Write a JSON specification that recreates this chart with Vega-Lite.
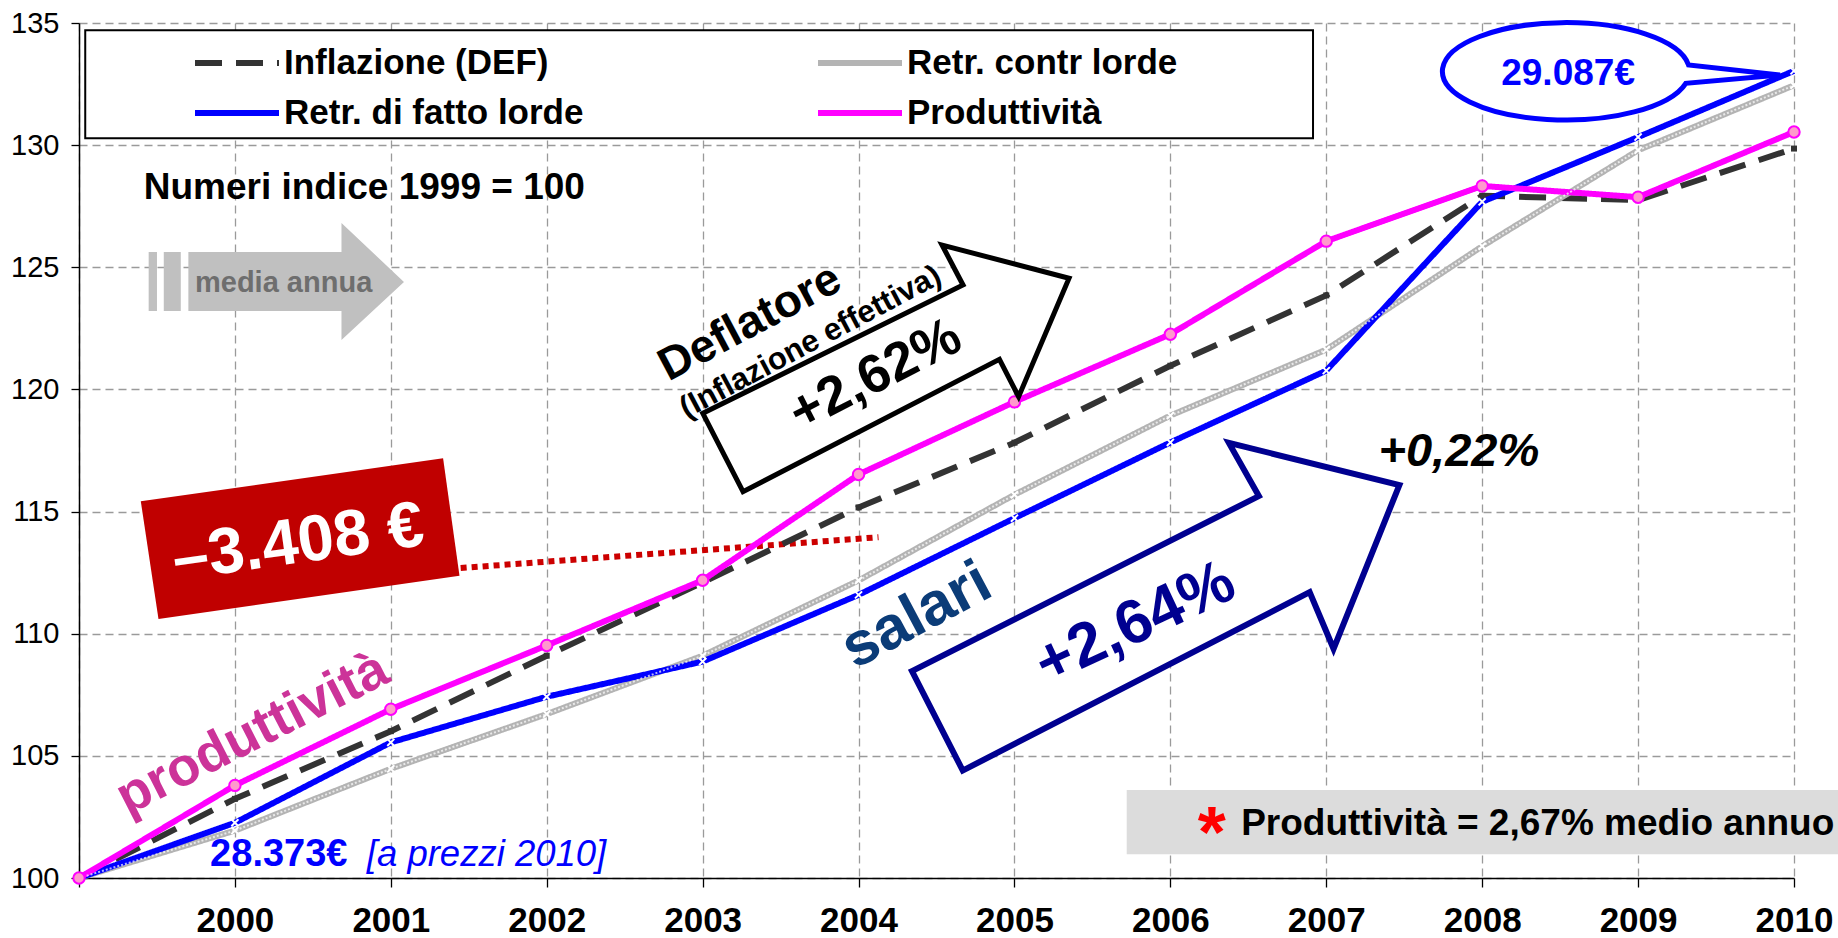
{
  "$schema": "https://vega.github.io/schema/vega-lite/v6.json",
  "width": 1715,
  "height": 855,
  "autosize": {"type": "none"},
  "padding": {"left": 79, "top": 23, "right": 44, "bottom": 60},
  "background": "white",
  "config": {"view": {"stroke": null}, "font": "Liberation Sans"},
  "data": {"values": [
    {"anno": 1999, "serie": "Inflazione (DEF)", "valore": 100},
    {"anno": 2000, "serie": "Inflazione (DEF)", "valore": 103.24},
    {"anno": 2001, "serie": "Inflazione (DEF)", "valore": 106.01},
    {"anno": 2002, "serie": "Inflazione (DEF)", "valore": 109.1},
    {"anno": 2003, "serie": "Inflazione (DEF)", "valore": 112.1},
    {"anno": 2004, "serie": "Inflazione (DEF)", "valore": 115.17},
    {"anno": 2005, "serie": "Inflazione (DEF)", "valore": 117.82},
    {"anno": 2006, "serie": "Inflazione (DEF)", "valore": 120.97},
    {"anno": 2007, "serie": "Inflazione (DEF)", "valore": 123.85},
    {"anno": 2008, "serie": "Inflazione (DEF)", "valore": 127.93},
    {"anno": 2009, "serie": "Inflazione (DEF)", "valore": 127.75},
    {"anno": 2010, "serie": "Inflazione (DEF)", "valore": 129.86},
    {"anno": 1999, "serie": "Retr. contr lorde", "valore": 100},
    {"anno": 2000, "serie": "Retr. contr lorde", "valore": 101.94},
    {"anno": 2001, "serie": "Retr. contr lorde", "valore": 104.47},
    {"anno": 2002, "serie": "Retr. contr lorde", "valore": 106.71},
    {"anno": 2003, "serie": "Retr. contr lorde", "valore": 109.1},
    {"anno": 2004, "serie": "Retr. contr lorde", "valore": 112.18},
    {"anno": 2005, "serie": "Retr. contr lorde", "valore": 115.69},
    {"anno": 2006, "serie": "Retr. contr lorde", "valore": 118.93},
    {"anno": 2007, "serie": "Retr. contr lorde", "valore": 121.63},
    {"anno": 2008, "serie": "Retr. contr lorde", "valore": 125.86},
    {"anno": 2009, "serie": "Retr. contr lorde", "valore": 129.79},
    {"anno": 2010, "serie": "Retr. contr lorde", "valore": 132.45},
    {"anno": 1999, "serie": "Retr. di fatto lorde", "valore": 100},
    {"anno": 2000, "serie": "Retr. di fatto lorde", "valore": 102.26},
    {"anno": 2001, "serie": "Retr. di fatto lorde", "valore": 105.55},
    {"anno": 2002, "serie": "Retr. di fatto lorde", "valore": 107.42},
    {"anno": 2003, "serie": "Retr. di fatto lorde", "valore": 108.86},
    {"anno": 2004, "serie": "Retr. di fatto lorde", "valore": 111.59},
    {"anno": 2005, "serie": "Retr. di fatto lorde", "valore": 114.73},
    {"anno": 2006, "serie": "Retr. di fatto lorde", "valore": 117.83},
    {"anno": 2007, "serie": "Retr. di fatto lorde", "valore": 120.77},
    {"anno": 2008, "serie": "Retr. di fatto lorde", "valore": 127.68},
    {"anno": 2009, "serie": "Retr. di fatto lorde", "valore": 130.33},
    {"anno": 2010, "serie": "Retr. di fatto lorde", "valore": 133.04},
    {"anno": 1999, "serie": "Produttività", "valore": 100},
    {"anno": 2000, "serie": "Produttività", "valore": 103.79},
    {"anno": 2001, "serie": "Produttività", "valore": 106.91},
    {"anno": 2002, "serie": "Produttività", "valore": 109.52},
    {"anno": 2003, "serie": "Produttività", "valore": 112.19},
    {"anno": 2004, "serie": "Produttività", "valore": 116.52},
    {"anno": 2005, "serie": "Produttività", "valore": 119.49},
    {"anno": 2006, "serie": "Produttività", "valore": 122.26},
    {"anno": 2007, "serie": "Produttività", "valore": 126.07},
    {"anno": 2008, "serie": "Produttività", "valore": 128.33},
    {"anno": 2009, "serie": "Produttività", "valore": 127.87},
    {"anno": 2010, "serie": "Produttività", "valore": 130.54}
  ]},
  "encoding": {
    "x": {
      "field": "anno", "type": "quantitative", "title": null,
      "scale": {"domain": [1999, 2010], "nice": false, "zero": false},
      "axis": {
        "values": [1999, 2000, 2001, 2002, 2003, 2004, 2005, 2006, 2007, 2008, 2009, 2010],
        "format": "d",
        "labelExpr": "datum.value == 1999 ? '' : datum.label",
        "labelFont": "Liberation Sans", "labelFontSize": 35, "labelFontWeight": "bold", "labelColor": "black",
        "labelPadding": 16, "labelFlush": false, "labelOverlap": false,
        "tickSize": 9, "tickColor": "black", "tickWidth": 1.3,
        "domainColor": "black", "domainWidth": 1.5,
        "grid": true, "gridColor": "#9a9a9a", "gridDash": [8, 5], "gridWidth": 1.3
      }
    },
    "y": {
      "field": "valore", "type": "quantitative", "title": null,
      "scale": {"domain": [100, 135], "nice": false, "zero": false},
      "axis": {
        "values": [100, 105, 110, 115, 120, 125, 130, 135],
        "labelFont": "Liberation Sans", "labelFontSize": 29, "labelColor": "black",
        "labelPadding": 12, "labelFlush": false, "labelOverlap": false,
        "tickSize": 8, "tickColor": "black", "tickWidth": 1.3,
        "domainColor": "black", "domainWidth": 1.5,
        "grid": true, "gridColor": "#9a9a9a", "gridDash": [8, 5], "gridWidth": 1.3
      }
    }
  },
  "layer": [
    {
      "data": {"values": [{"anno": 1999.04, "anno2": 2006.915, "valore": 134.7, "valore2": 130.28}]},
      "mark": {"type": "rect", "fill": "white", "stroke": "black", "strokeWidth": 2},
      "encoding": {"x2": {"field": "anno2"}, "y2": {"field": "valore2"}}
    },
    {
      "data": {"values": [{"anno": 2000.4, "valore": 124.4}]},
      "mark": {"type": "point", "shape": "M-1.089,-0.299L0.442,-0.299L0.442,-0.589L1.067,0L0.442,0.581L0.442,0.291L-1.089,0.291Z M-1.486,-0.299L-1.403,-0.299L-1.403,0.291L-1.486,0.291Z M-1.335,-0.299L-1.165,-0.299L-1.165,0.291L-1.335,0.291Z", "size": 40000, "filled": true, "fill": "#c0c0c0", "strokeWidth": 0, "opacity": 1}
    },
    {
      "data": {"values": [{"anno": 2005.72, "anno2": 2010.4, "valore": 103.6, "valore2": 100.97}]},
      "mark": {"type": "rect", "fill": "#dcdcdc", "strokeWidth": 0},
      "encoding": {"x2": {"field": "anno2"}, "y2": {"field": "valore2"}}
    },
    {
      "data": {"values": [{"anno": 2001.448, "valore": 112.69}, {"anno": 2004.128, "valore": 113.95}]},
      "mark": {"type": "line", "color": "#cc0000", "strokeWidth": 6, "strokeDash": [6, 5]}
    },
    {
      "mark": {"type": "line", "strokeWidth": 6, "strokeJoin": "round"},
      "encoding": {
        "color": {
          "field": "serie", "type": "nominal",
          "scale": {"domain": ["Inflazione (DEF)", "Retr. di fatto lorde", "Retr. contr lorde", "Produttività"], "range": ["#333333", "#0000ff", "#b4b4b4", "#ff00ff"]},
          "legend": {
            "orient": "none", "legendX": 118, "legendY": 17, "columns": 2, "columnPadding": 222, "rowPadding": 9,
            "title": null, "symbolType": "M-2.1,0L2.1,0", "symbolSize": 1600, "symbolStrokeWidth": 6,
            "symbolOffset": 17, "labelOffset": 24, "labelFont": "Liberation Sans", "labelFontSize": 35,
            "labelFontWeight": "bold", "labelColor": "black", "labelLimit": 600
          }
        },
        "strokeDash": {
          "field": "serie", "type": "nominal",
          "scale": {"domain": ["Inflazione (DEF)", "Retr. di fatto lorde", "Retr. contr lorde", "Produttività"], "range": [[27, 14], [1, 0], [1, 0], [1, 0]]},
          "legend": {
            "orient": "none", "legendX": 118, "legendY": 17, "columns": 2, "columnPadding": 222, "rowPadding": 9,
            "title": null, "symbolType": "M-2.1,0L2.1,0", "symbolSize": 1600, "symbolStrokeWidth": 6,
            "symbolOffset": 17, "labelOffset": 24, "labelFont": "Liberation Sans", "labelFontSize": 35,
            "labelFontWeight": "bold", "labelColor": "black", "labelLimit": 600
          }
        }
      }
    },
    {
      "transform": [{"filter": "datum.serie == 'Retr. contr lorde'"}],
      "mark": {"type": "line", "color": "white", "strokeWidth": 2, "strokeDash": [2, 2], "opacity": 0.7}
    },
    {
      "transform": [{"filter": "datum.serie == 'Inflazione (DEF)'"}],
      "mark": {"type": "point", "shape": "square", "size": 36, "filled": true, "color": "#333333", "opacity": 1}
    },
    {
      "transform": [{"filter": "datum.serie == 'Retr. contr lorde' || datum.serie == 'Retr. di fatto lorde'"}],
      "mark": {"type": "point", "shape": "M-1,-1L1,1M-1,1L1,-1", "size": 50, "filled": false, "color": "white", "strokeWidth": 2, "opacity": 1}
    },
    {
      "transform": [{"filter": "datum.serie == 'Produttività'"}],
      "mark": {"type": "point", "shape": "circle", "size": 130, "filled": true, "fill": "#ff99cc", "stroke": "#ff00ff", "strokeWidth": 2, "opacity": 1}
    },
    {
      "data": {"values": [{"anno": 2004.1, "valore": 120.8}]},
      "mark": {"type": "point", "shape": "M-1.713,0.434L0.889,-0.849L0.679,-1.249L1.949,-0.916L1.445,0.268L1.253,-0.106L-1.311,1.218Z", "size": 40000, "filled": true, "fill": "white", "stroke": "black", "strokeWidth": 5, "strokeJoin": "miter", "opacity": 1}
    },
    {
      "data": {"values": [{"anno": 2006, "valore": 112}]},
      "mark": {"type": "point", "shape": "M-2.584,0.862L0.885,-0.888L0.585,-1.42L2.29,-0.998L1.632,0.639L1.393,0.073L-2.076,1.857Z", "size": 40000, "filled": true, "fill": "white", "stroke": "#000090", "strokeWidth": 6, "strokeJoin": "miter", "opacity": 1}
    },
    {
      "data": {"values": [{"anno": 2000.42, "valore": 113.9}]},
      "mark": {"type": "point", "shape": "M-1.596,-0.372L1.427,-0.801L1.591,0.373L-1.419,0.806Z", "size": 40000, "filled": true, "fill": "#c00000", "strokeWidth": 0, "opacity": 1}
    },
    {
      "data": {"values": [{"anno": 2008.5376, "valore": 133.023}]},
      "mark": {"type": "point", "shape": "M1.198,0.12A1.236,0.487 0 1 1 1.2256,-0.063L2.14,0.037Z", "size": 40000, "filled": true, "fill": "white", "stroke": "#0000ff", "strokeWidth": 5, "opacity": 1}
    },
    {
      "data": {"values": [{"anno": 1999.415, "valore": 127.79, "testo": "Numeri indice 1999 = 100"}]},
      "mark": {"type": "text", "align": "left", "baseline": "alphabetic", "fontSize": 37, "fontWeight": "bold", "color": "black"},
      "encoding": {"text": {"field": "testo"}}
    },
    {
      "data": {"values": [{"anno": 1999.744, "valore": 123.99, "testo": "media annua"}]},
      "mark": {"type": "text", "align": "left", "baseline": "alphabetic", "fontSize": 29, "fontWeight": "bold", "color": "#6e6e6e"},
      "encoding": {"text": {"field": "testo"}}
    },
    {
      "data": {"values": [{"anno": 2003.345, "valore": 122.23, "testo": "Deflatore"}]},
      "mark": {"type": "text", "align": "center", "baseline": "alphabetic", "angle": -28, "fontSize": 46, "fontWeight": "bold", "color": "black"},
      "encoding": {"text": {"field": "testo"}}
    },
    {
      "data": {"values": [{"anno": 2003.72, "valore": 121.6, "testo": "(Inflazione effettiva)"}]},
      "mark": {"type": "text", "align": "center", "baseline": "alphabetic", "angle": -28, "fontSize": 31, "fontWeight": "bold", "color": "black"},
      "encoding": {"text": {"field": "testo"}}
    },
    {
      "data": {"values": [{"anno": 2004.155, "valore": 119.98, "testo": "+2,62%"}]},
      "mark": {"type": "text", "align": "center", "baseline": "alphabetic", "angle": -27, "fontSize": 54, "fontWeight": "bold", "color": "black"},
      "encoding": {"text": {"field": "testo"}}
    },
    {
      "data": {"values": [{"anno": 2000.422, "valore": 112.92, "testo": "–3.408 €"}]},
      "mark": {"type": "text", "align": "center", "baseline": "alphabetic", "angle": -8, "fontSize": 65, "fontWeight": "bold", "color": "white"},
      "encoding": {"text": {"field": "testo"}}
    },
    {
      "data": {"values": [{"anno": 2000.16, "valore": 105.32, "testo": "produttività"}]},
      "mark": {"type": "text", "align": "center", "baseline": "alphabetic", "angle": -27, "fontSize": 54, "fontWeight": "bold", "color": "#cc3399"},
      "encoding": {"text": {"field": "testo"}}
    },
    {
      "data": {"values": [{"anno": 1999.841, "valore": 100.49, "testo": "28.373€"}]},
      "mark": {"type": "text", "align": "left", "baseline": "alphabetic", "fontSize": 38, "fontWeight": "bold", "color": "#0000ff"},
      "encoding": {"text": {"field": "testo"}}
    },
    {
      "data": {"values": [{"anno": 2000.846, "valore": 100.49, "testo": "[a prezzi 2010]"}]},
      "mark": {"type": "text", "align": "left", "baseline": "alphabetic", "fontSize": 36.5, "fontStyle": "italic", "color": "#0000ff"},
      "encoding": {"text": {"field": "testo"}}
    },
    {
      "data": {"values": [{"anno": 2004.427, "valore": 110.07, "testo": "salari"}]},
      "mark": {"type": "text", "align": "center", "baseline": "alphabetic", "angle": -28, "fontSize": 61, "fontWeight": "bold", "color": "#0b3c78"},
      "encoding": {"text": {"field": "testo"}}
    },
    {
      "data": {"values": [{"anno": 2005.825, "valore": 109.72, "testo": "+2,64%"}]},
      "mark": {"type": "text", "align": "center", "baseline": "alphabetic", "angle": -25, "fontSize": 62, "fontWeight": "bold", "color": "#000090"},
      "encoding": {"text": {"field": "testo"}}
    },
    {
      "data": {"values": [{"anno": 2007.335, "valore": 116.86, "testo": "+0,22%"}]},
      "mark": {"type": "text", "align": "left", "baseline": "alphabetic", "fontSize": 47, "fontWeight": "bold", "fontStyle": "italic", "color": "black"},
      "encoding": {"text": {"field": "testo"}}
    },
    {
      "data": {"values": [{"anno": 2008.551, "valore": 132.46, "testo": "29.087€"}]},
      "mark": {"type": "text", "align": "center", "baseline": "alphabetic", "fontSize": 37, "fontWeight": "bold", "color": "#0000ff"},
      "encoding": {"text": {"field": "testo"}}
    },
    {
      "data": {"values": [{"anno": 2006.265, "valore": 100.85, "testo": "*"}]},
      "mark": {"type": "text", "align": "center", "baseline": "alphabetic", "fontSize": 72, "fontWeight": "bold", "color": "#ff0000"},
      "encoding": {"text": {"field": "testo"}}
    },
    {
      "data": {"values": [{"anno": 2006.454, "valore": 101.76, "testo": "Produttività = 2,67% medio annuo"}]},
      "mark": {"type": "text", "align": "left", "baseline": "alphabetic", "fontSize": 37, "fontWeight": "bold", "color": "black"},
      "encoding": {"text": {"field": "testo"}}
    }
  ]
}
